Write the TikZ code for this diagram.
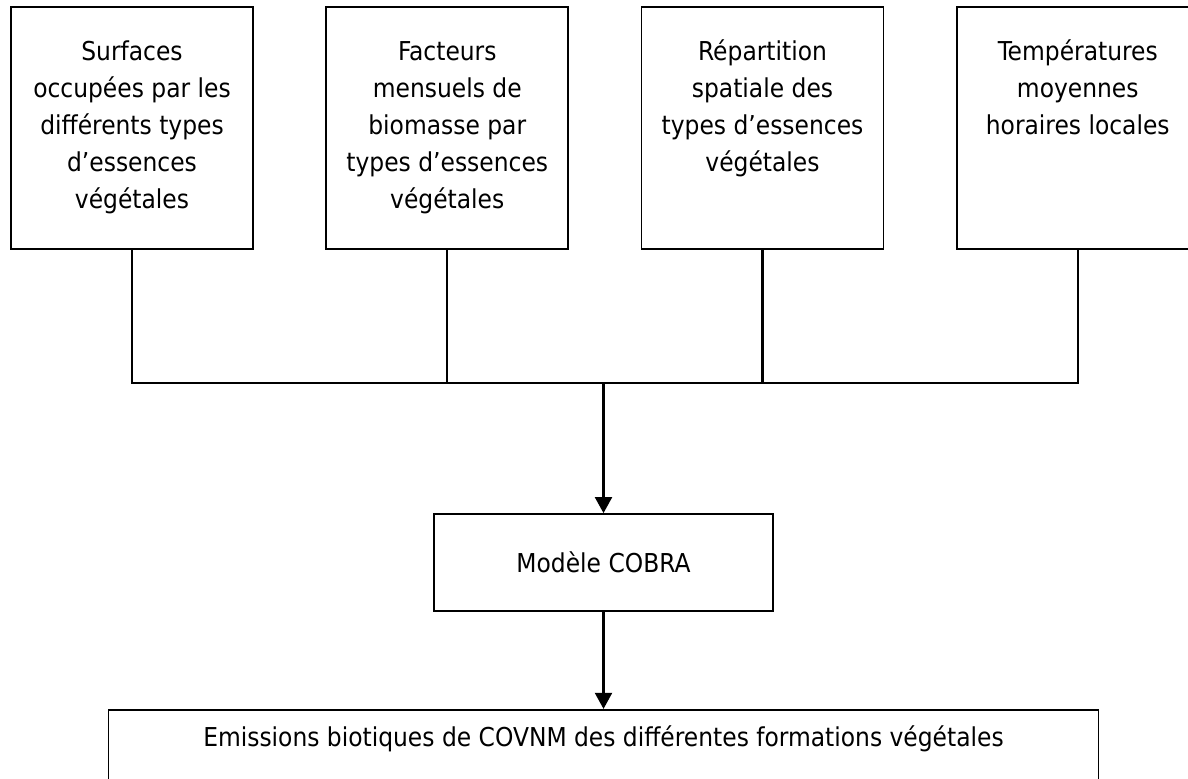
\documentclass[tikz,border=0pt]{standalone}
\usepackage{fontspec}
\setmainfont{DejaVu Sans Condensed}
\usepackage{tikz}
\usetikzlibrary{positioning,arrows.meta,calc}
\newcommand{\police}{\fontsize{14.8pt}{21pt}\selectfont}
\newcommand{\pave}[4][0.56cm]{\parbox[c][#2][t]{#3}{\centering\vspace*{#1}#4}}
\tikzset{
  entree/.style={rectangle, draw=black, line width=1pt, inner sep=0pt,
    minimum width=4.84cm, minimum height=4.84cm, font=\police},
  modele/.style={rectangle, draw=black, line width=1pt, inner sep=0pt,
    minimum width=6.78cm, minimum height=1.94cm, font=\police},
  sortie/.style={rectangle, draw=black, line width=1pt, inner sep=0pt,
    minimum width=19.8cm, minimum height=1.94cm, font=\police},
  lien/.style={line width=1.2pt},
  fleche/.style={-{Triangle[length=3.2mm,width=3.4mm]}, line width=1.2pt},
}
\begin{document}
\begin{tikzpicture}
  \path[use as bounding box] (0,0) rectangle (23.76,-15.56);
  \clip (0,0) rectangle (23.76,-15.56);
  % les quatre entrees
  \node[entree] (surf) at (2.64,-2.56) {\pave{4.84cm}{4.7cm}{\strut Surfaces\\\strut occupées par les\\\strut différents types\\\strut d’essences\\\strut végétales}};
  \node[entree, right=1.43cm of surf] (fact) {\pave{4.84cm}{4.7cm}{\strut Facteurs\\\strut mensuels de\\\strut biomasse par\\\strut types d’essences\\\strut végétales}};
  \node[entree, right=1.43cm of fact] (rep) {\pave{4.84cm}{4.7cm}{\strut Répartition\\\strut spatiale des\\\strut types d’essences\\\strut végétales}};
  \node[entree, right=1.43cm of rep] (temp) {\pave{4.84cm}{4.7cm}{\strut Températures\\\strut moyennes\\\strut horaires locales}};
  % modele et sortie
  \node[modele] (cobra) at (12.07,-11.25) {Modèle COBRA};
  \node[sortie, below=1.94cm of cobra] (emis) {\pave[0.22cm]{1.94cm}{19.6cm}{\strut Emissions biotiques de COVNM des différentes formations végétales}};
  \coordinate[below=2.66cm of surf.south] (bas);
  \coordinate (jonction) at (cobra.north |- bas);
  \draw[lien] (surf.south) |- (temp.south |- bas) -- (temp.south);
  \draw[lien] (fact.south) -- (fact.south |- bas);
  \draw[lien] (rep.south) -- (rep.south |- bas);
  \draw[fleche] (jonction) -- (cobra.north);
  \draw[fleche] (cobra.south) -- (emis.north);
\end{tikzpicture}
\end{document}
